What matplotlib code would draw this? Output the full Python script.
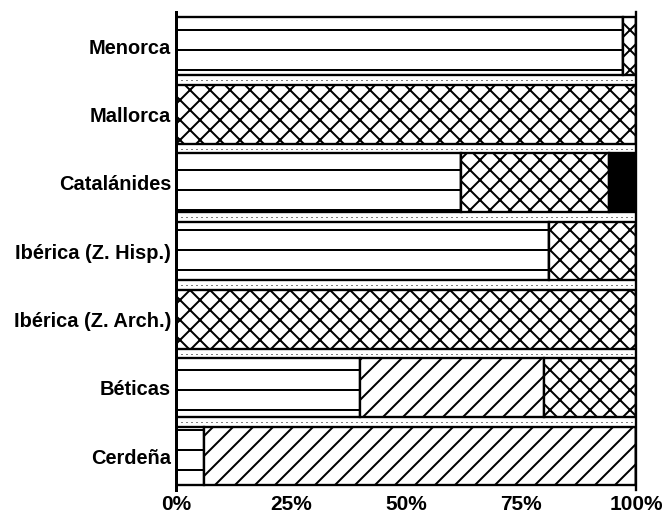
import matplotlib.pyplot as plt
import numpy as np

plt.rcParams['font.family'] = ['Liberation Sans', 'DejaVu Sans']
plt.rcParams['hatch.linewidth'] = 1.2

# categories, top to bottom as shown
regions = ["Menorca", "Mallorca", "Catalánides", "Ibérica (Z. Hisp.)",
           "Ibérica (Z. Arch.)", "Béticas", "Cerdeña"]

# percentage shares per region (same order as regions)
lines_pct = [97, 0, 62, 81, 0, 40, 6]
diag_pct = [0, 0, 0, 0, 0, 40, 94]
cross_pct = [3, 100, 32, 19, 100, 20, 0]
black_pct = [0, 0, 6, 0, 0, 0, 0]

xticks = [0, 25, 50, 75, 100]
xlabels = ["0%", "25%", "50%", "75%", "100%"]

# dpi 120 so the hatch spacing comes out like the original (~20 px)
fig = plt.figure(figsize=(667 / 120, 516 / 120), dpi=120)
ax = fig.add_axes([0.264, 0.05, 0.690, 0.927])

y = np.arange(len(regions))[::-1]
h = 0.86
left = np.zeros(len(regions))
series = [(lines_pct, 'white', '-'), (diag_pct, 'white', '//'),
          (cross_pct, 'white', 'xx'), (black_pct, 'black', '')]
for vals, fc, hatch in series:
    vals = np.array(vals, dtype=float)
    ax.barh(y, vals, height=h, left=left, color=fc, edgecolor='black',
            hatch=hatch, linewidth=1.4)
    left += vals

# faint dotted separators between rows
for k in range(len(regions) - 1):
    ax.axhline(k + 0.5, color='black', linestyle=(0, (1, 4)), linewidth=0.6)

ax.set_xlim(0, 100)
ax.set_ylim(-0.5, len(regions) - 0.5)
ax.set_yticks(y)
ax.set_yticklabels(regions, fontsize=12, fontweight='bold')
ax.set_xticks(xticks)
ax.set_xticklabels(xlabels, fontsize=12.5, fontweight='bold')
ax.tick_params(axis='both', length=0)
ax.tick_params(axis='y', pad=3)
ax.tick_params(axis='x', pad=3)
for s in ['top', 'bottom']:
    ax.spines[s].set_visible(False)
ax.spines['left'].set_linewidth(1.8)
ax.spines['right'].set_linewidth(1.4)

fig.savefig("out.png", dpi=120)
